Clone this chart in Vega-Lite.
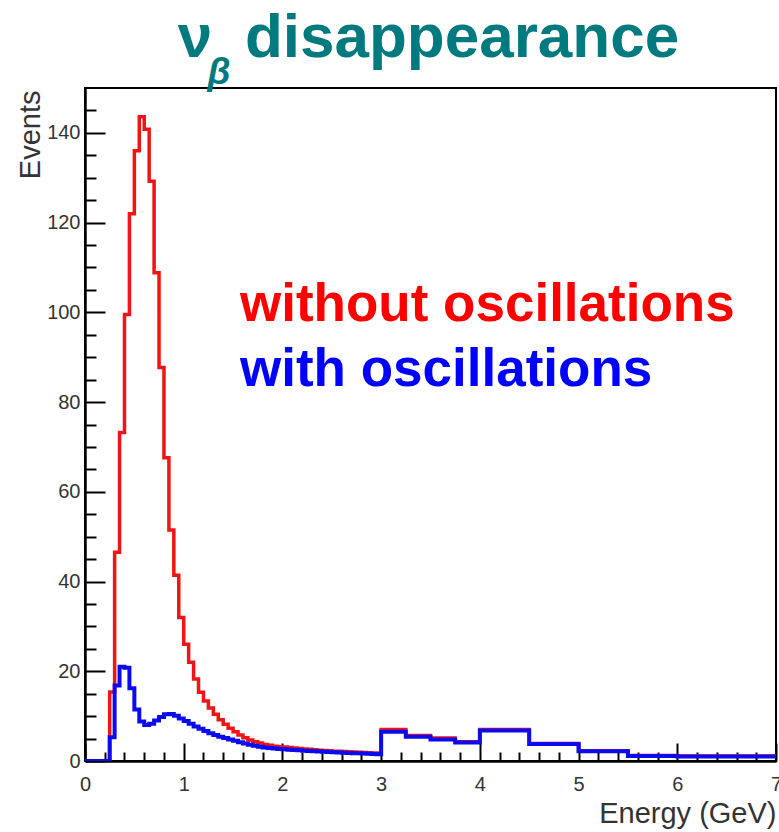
{
  "$schema": "https://vega.github.io/schema/vega-lite/v6.json",
  "width": 691,
  "height": 673,
  "autosize": {"type": "none"},
  "padding": {"left": 85, "top": 88, "right": 3, "bottom": 71},
  "background": "white",
  "config": {
    "view": {"stroke": "black", "strokeWidth": 2},
    "font": "Liberation Sans",
    "axis": {
      "grid": false,
      "domainColor": "black",
      "domainWidth": 2.5,
      "tickColor": "black",
      "tickWidth": 2,
      "labelFont": "Liberation Sans",
      "labelFontSize": 20,
      "labelColor": "#333333",
      "titleFont": "Liberation Sans",
      "titleFontSize": 29,
      "titleFontWeight": "normal",
      "titleColor": "#333333"
    }
  },
  "datasets": {
    "without": [
      {"E": 0, "n": 0}, {"E": 0.05, "n": 0}, {"E": 0.1, "n": 0}, {"E": 0.15, "n": 0}, {"E": 0.2, "n": 0},
      {"E": 0.25, "n": 15.4}, {"E": 0.3, "n": 46.5}, {"E": 0.35, "n": 73.2}, {"E": 0.4, "n": 99.5},
      {"E": 0.45, "n": 122}, {"E": 0.5, "n": 136}, {"E": 0.55, "n": 143.6}, {"E": 0.6, "n": 140.8},
      {"E": 0.65, "n": 129.2}, {"E": 0.7, "n": 108.8}, {"E": 0.75, "n": 87.7}, {"E": 0.8, "n": 67.6},
      {"E": 0.85, "n": 51.5}, {"E": 0.9, "n": 41.4}, {"E": 0.95, "n": 32}, {"E": 1.0, "n": 26},
      {"E": 1.05, "n": 22}, {"E": 1.1, "n": 18.3}, {"E": 1.15, "n": 15.3}, {"E": 1.2, "n": 13.4},
      {"E": 1.25, "n": 11.8}, {"E": 1.3, "n": 10.4}, {"E": 1.35, "n": 9.2}, {"E": 1.4, "n": 8.2},
      {"E": 1.45, "n": 7.3}, {"E": 1.5, "n": 6.5}, {"E": 1.55, "n": 5.8}, {"E": 1.6, "n": 5.2},
      {"E": 1.65, "n": 4.7}, {"E": 1.7, "n": 4.3}, {"E": 1.75, "n": 4.0}, {"E": 1.8, "n": 3.7},
      {"E": 1.85, "n": 3.5}, {"E": 1.9, "n": 3.3}, {"E": 1.95, "n": 3.2}, {"E": 2.0, "n": 3.1},
      {"E": 2.05, "n": 3.0}, {"E": 2.1, "n": 2.9}, {"E": 2.15, "n": 2.8}, {"E": 2.2, "n": 2.7},
      {"E": 2.25, "n": 2.6}, {"E": 2.3, "n": 2.5}, {"E": 2.35, "n": 2.4}, {"E": 2.4, "n": 2.35},
      {"E": 2.45, "n": 2.3}, {"E": 2.5, "n": 2.2}, {"E": 2.55, "n": 2.15}, {"E": 2.6, "n": 2.1},
      {"E": 2.65, "n": 2.05}, {"E": 2.7, "n": 2.0}, {"E": 2.75, "n": 1.95}, {"E": 2.8, "n": 1.9},
      {"E": 2.85, "n": 1.85}, {"E": 2.9, "n": 1.8}, {"E": 2.95, "n": 1.8},
      {"E": 3.0, "n": 7.0}, {"E": 3.25, "n": 5.7}, {"E": 3.5, "n": 5.1}, {"E": 3.75, "n": 4.3},
      {"E": 4.0, "n": 7.0}, {"E": 4.5, "n": 3.9}, {"E": 5.0, "n": 2.3}, {"E": 5.5, "n": 1.2},
      {"E": 6.0, "n": 1.1}, {"E": 6.5, "n": 1.1}, {"E": 7.0, "n": 1.1}
    ],
    "with": [
      {"E": 0, "n": 0}, {"E": 0.05, "n": 0}, {"E": 0.1, "n": 0}, {"E": 0.15, "n": 0}, {"E": 0.2, "n": 0},
      {"E": 0.25, "n": 5.3}, {"E": 0.3, "n": 16.8}, {"E": 0.35, "n": 21.0}, {"E": 0.4, "n": 20.8},
      {"E": 0.45, "n": 16.2}, {"E": 0.5, "n": 11.5}, {"E": 0.55, "n": 8.8}, {"E": 0.6, "n": 8.0},
      {"E": 0.65, "n": 8.3}, {"E": 0.7, "n": 9.0}, {"E": 0.75, "n": 9.8}, {"E": 0.8, "n": 10.4},
      {"E": 0.85, "n": 10.5}, {"E": 0.9, "n": 10.1}, {"E": 0.95, "n": 9.5}, {"E": 1.0, "n": 8.9},
      {"E": 1.05, "n": 8.3}, {"E": 1.1, "n": 7.7}, {"E": 1.15, "n": 7.2}, {"E": 1.2, "n": 6.7},
      {"E": 1.25, "n": 6.2}, {"E": 1.3, "n": 5.8}, {"E": 1.35, "n": 5.4}, {"E": 1.4, "n": 5.1},
      {"E": 1.45, "n": 4.8}, {"E": 1.5, "n": 4.5}, {"E": 1.55, "n": 4.2}, {"E": 1.6, "n": 3.9},
      {"E": 1.65, "n": 3.6}, {"E": 1.7, "n": 3.4}, {"E": 1.75, "n": 3.2}, {"E": 1.8, "n": 3.0},
      {"E": 1.85, "n": 2.9}, {"E": 1.9, "n": 2.8}, {"E": 1.95, "n": 2.7}, {"E": 2.0, "n": 2.6},
      {"E": 2.05, "n": 2.5}, {"E": 2.1, "n": 2.45}, {"E": 2.15, "n": 2.4}, {"E": 2.2, "n": 2.3},
      {"E": 2.25, "n": 2.25}, {"E": 2.3, "n": 2.2}, {"E": 2.35, "n": 2.1}, {"E": 2.4, "n": 2.05},
      {"E": 2.45, "n": 2.0}, {"E": 2.5, "n": 1.95}, {"E": 2.55, "n": 1.9}, {"E": 2.6, "n": 1.85},
      {"E": 2.65, "n": 1.8}, {"E": 2.7, "n": 1.75}, {"E": 2.75, "n": 1.7}, {"E": 2.8, "n": 1.65},
      {"E": 2.85, "n": 1.6}, {"E": 2.9, "n": 1.55}, {"E": 2.95, "n": 1.5},
      {"E": 3.0, "n": 6.5}, {"E": 3.25, "n": 5.4}, {"E": 3.5, "n": 4.8}, {"E": 3.75, "n": 4.1},
      {"E": 4.0, "n": 6.8}, {"E": 4.5, "n": 3.8}, {"E": 5.0, "n": 2.2}, {"E": 5.5, "n": 1.1},
      {"E": 6.0, "n": 1.0}, {"E": 6.5, "n": 1.0}, {"E": 7.0, "n": 1.0}
    ]
  },
  "layer": [
    {
      "data": {"name": "without"},
      "mark": {"type": "line", "interpolate": "step-after", "color": "#f01414", "strokeWidth": 3.5, "clip": true},
      "encoding": {
        "x": {
          "field": "E", "type": "quantitative",
          "scale": {"domain": [0, 7], "nice": false, "zero": false},
          "axis": {
            "orient": "bottom",
            "values": [0, 1, 2, 3, 4, 5, 6, 7],
            "tickSize": -18,
            "labelPadding": 31,
            "labelFlush": false,
            "format": "d",
            "title": "Energy (GeV)",
            "titleAnchor": "end",
            "titleAlign": "right",
            "titleBaseline": "alphabetic",
            "titleX": 691,
            "titleY": 61
          }
        },
        "y": {
          "field": "n", "type": "quantitative",
          "scale": {"domain": [0, 150], "nice": false, "zero": true},
          "axis": {
            "orient": "left",
            "values": [0, 20, 40, 60, 80, 100, 120, 140],
            "tickSize": -20,
            "labelPadding": 25,
            "title": "Events",
            "titleAngle": -90,
            "titleAlign": "right",
            "titleBaseline": "middle",
            "titleX": -55,
            "titleY": 2
          }
        }
      }
    },
    {
      "data": {"name": "with"},
      "mark": {"type": "line", "interpolate": "step-after", "color": "#0a0af0", "strokeWidth": 4, "clip": true},
      "encoding": {
        "x": {
          "field": "E", "type": "quantitative",
          "scale": {"domain": [0, 7], "nice": false, "zero": false},
          "axis": {
            "orient": "bottom",
            "values": [0.2, 0.4, 0.6, 0.8, 1.2, 1.4, 1.6, 1.8, 2.2, 2.4, 2.6, 2.8, 3.2, 3.4, 3.6, 3.8, 4.2, 4.4, 4.6, 4.8, 5.2, 5.4, 5.6, 5.8, 6.2, 6.4, 6.6, 6.8],
            "tickSize": -9,
            "labels": false,
            "domain": false,
            "title": null
          }
        },
        "y": {
          "field": "n", "type": "quantitative",
          "scale": {"domain": [0, 150], "nice": false, "zero": true},
          "axis": {
            "orient": "left",
            "values": [5, 10, 15, 25, 30, 35, 45, 50, 55, 65, 70, 75, 85, 90, 95, 105, 110, 115, 125, 130, 135, 145],
            "tickSize": -11,
            "labels": false,
            "domain": false,
            "title": null
          }
        }
      }
    },
    {
      "data": {"values": [{"label": "without oscillations"}]},
      "mark": {"type": "text", "align": "left", "baseline": "alphabetic", "font": "Liberation Sans", "fontSize": 53, "fontWeight": "bold", "color": "#ff0000", "clip": false},
      "encoding": {
        "text": {"field": "label"},
        "x": {"datum": 1.57, "type": "quantitative", "scale": {"domain": [0, 7], "nice": false, "zero": false}, "axis": null},
        "y": {"datum": 98, "type": "quantitative", "scale": {"domain": [0, 150], "nice": false, "zero": true}, "axis": null}
      }
    },
    {
      "data": {"values": [{"label": "with oscillations"}]},
      "mark": {"type": "text", "align": "left", "baseline": "alphabetic", "font": "Liberation Sans", "fontSize": 53, "fontWeight": "bold", "color": "#0000ff", "clip": false},
      "encoding": {
        "text": {"field": "label"},
        "x": {"datum": 1.57, "type": "quantitative", "scale": {"domain": [0, 7], "nice": false, "zero": false}, "axis": null},
        "y": {"datum": 83.6, "type": "quantitative", "scale": {"domain": [0, 150], "nice": false, "zero": true}, "axis": null}
      }
    },
    {
      "data": {"values": [{"label": "ν"}]},
      "mark": {"type": "text", "align": "left", "baseline": "alphabetic", "font": "Liberation Sans", "fontSize": 62, "fontWeight": "bold", "color": "#007a7f", "clip": false},
      "encoding": {
        "text": {"field": "label"},
        "x": {"datum": 0.94, "type": "quantitative", "scale": {"domain": [0, 7], "nice": false, "zero": false}, "axis": null},
        "y": {"datum": 156.9, "type": "quantitative", "scale": {"domain": [0, 150], "nice": false, "zero": true}, "axis": null}
      }
    },
    {
      "data": {"values": [{"label": "β"}]},
      "mark": {"type": "text", "align": "left", "baseline": "alphabetic", "font": "Liberation Sans", "fontSize": 37, "fontWeight": "bold", "fontStyle": "italic", "color": "#007a7f", "clip": false},
      "encoding": {
        "text": {"field": "label"},
        "x": {"datum": 1.24, "type": "quantitative", "scale": {"domain": [0, 7], "nice": false, "zero": false}, "axis": null},
        "y": {"datum": 151, "type": "quantitative", "scale": {"domain": [0, 150], "nice": false, "zero": true}, "axis": null}
      }
    },
    {
      "data": {"values": [{"label": "disappearance"}]},
      "mark": {"type": "text", "align": "left", "baseline": "alphabetic", "font": "Liberation Sans", "fontSize": 62, "fontWeight": "bold", "color": "#007a7f", "clip": false},
      "encoding": {
        "text": {"field": "label"},
        "x": {"datum": 1.62, "type": "quantitative", "scale": {"domain": [0, 7], "nice": false, "zero": false}, "axis": null},
        "y": {"datum": 156.9, "type": "quantitative", "scale": {"domain": [0, 150], "nice": false, "zero": true}, "axis": null}
      }
    }
  ],
  "resolve": {"axis": {"x": "independent", "y": "independent"}}
}
